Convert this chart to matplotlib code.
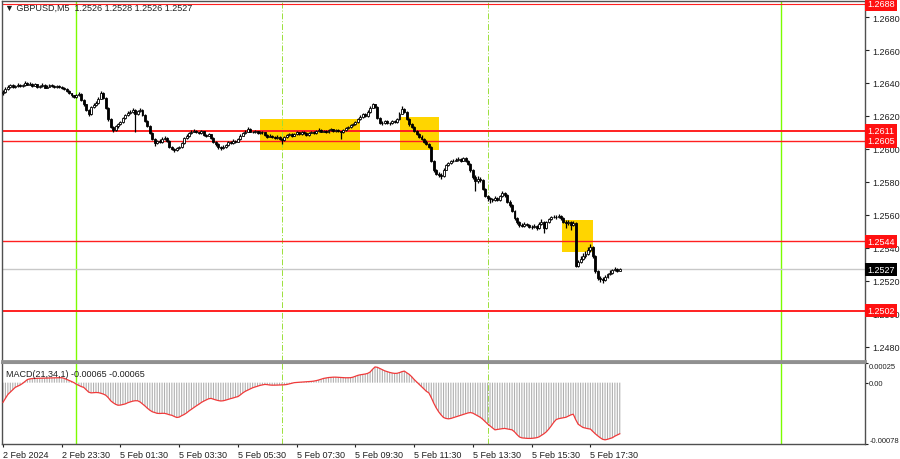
import numpy as np
import matplotlib
matplotlib.use('Agg')
import matplotlib.pyplot as plt
import matplotlib.transforms as mtransforms

plt.rcParams['font.family'] = ['Liberation Sans', 'DejaVu Sans']

# prices are in pips above 1.2500 (1 pip = 0.0001)
base = 1.25
pip = 0.0001

first_open = 134.0
closes = [
    134.5, 136.5, 137.5, 138.5, 137.8, 138.2, 139.0, 138.0, 138.6, 140.2,
    139.0, 139.5, 138.4, 139.2, 137.6, 138.0, 138.8, 137.2, 137.8, 138.5,
    138.0, 137.6, 138.3, 137.4, 136.8, 136.5, 135.2, 133.8, 132.5, 131.6,
    132.5, 133.4, 129.5, 127.0, 123.5, 121.0, 125.5, 126.8, 128.0, 130.5,
    134.2, 131.0, 125.0, 118.0, 113.5, 111.5, 113.8, 115.0, 116.2, 118.5,
    120.5, 121.8, 122.5, 123.8, 121.0, 122.8, 123.5, 120.5, 117.0, 114.0,
    109.5, 106.0, 103.5, 104.8, 104.2, 106.0, 106.8, 105.0, 101.5, 100.0,
    99.2, 100.5, 101.0, 103.5, 106.5, 107.8, 109.8, 110.5, 111.2, 110.0,
    109.5, 110.8, 108.5, 108.0, 108.8, 106.5, 104.0, 102.8, 101.0, 100.5,
    101.5, 102.5, 104.0, 103.5, 105.0, 104.5, 105.8, 108.0, 109.5, 110.5,
    112.0, 110.5, 110.0, 110.8, 109.8, 110.5, 110.0, 108.5, 107.5, 108.0,
    107.0, 106.5, 107.5, 106.0, 105.5, 107.0, 108.5, 109.0, 108.0, 108.8,
    110.0, 109.0, 110.5, 109.5, 108.5, 109.8, 110.2, 109.5, 110.8, 111.5,
    110.5, 111.0, 110.0, 111.5, 112.0, 111.0, 111.5, 110.8, 110.0, 111.5,
    112.8, 113.5, 114.5, 115.0, 116.5, 118.0, 119.5, 121.0, 120.0, 122.5,
    125.0, 127.0, 125.5, 119.0, 116.0, 115.5, 117.0, 116.0, 115.5, 117.0,
    116.5, 118.0, 121.5, 124.0, 122.5, 118.0, 115.0, 113.5, 111.0, 109.0,
    107.5, 106.0, 104.5, 103.0, 101.5, 93.0, 87.0, 85.0, 84.5, 83.5,
    87.5, 90.0, 91.5, 92.5, 93.0, 93.5, 94.0, 93.0, 94.5, 93.0,
    91.0, 87.0, 83.0, 80.5, 82.0, 81.0, 76.0, 71.5, 70.0, 69.5,
    69.0, 70.5, 69.0, 71.5, 73.5, 72.0, 68.0, 66.0, 62.5, 58.0,
    55.5, 54.0, 53.5, 54.5, 54.0, 53.0, 52.5, 53.5, 52.0, 54.5,
    56.0, 52.0, 55.5, 57.5, 58.5, 59.0, 58.5, 59.5, 58.0, 56.0,
    55.0, 56.0, 54.0, 55.0, 29.0, 31.5, 33.5, 35.0, 36.5, 38.5,
    40.5, 35.0, 26.0, 22.0, 21.0, 20.5, 22.5, 24.0, 25.0, 26.5,
    27.5, 26.0, 27.0]
highs = [
    136.0, 137.5, 138.8, 139.5, 139.2, 139.0, 140.2, 139.6, 139.5, 141.4,
    140.8, 140.5, 140.0, 140.0, 139.6, 138.8, 139.8, 139.2, 138.6, 139.4,
    139.2, 138.6, 139.0, 138.7, 137.9, 137.5, 136.8, 135.6, 134.2, 133.0,
    133.4, 134.5, 133.8, 130.2, 127.5, 124.2, 126.0, 127.6, 129.0, 131.5,
    135.0, 134.8, 131.5, 125.5, 118.6, 114.2, 114.5, 115.8, 117.0, 119.4,
    121.4, 122.8, 123.4, 124.7, 124.4, 123.6, 124.6, 124.0, 121.0, 117.6,
    114.5, 110.2, 106.6, 105.6, 105.8, 107.0, 107.6, 107.2, 105.4, 102.0,
    100.8, 101.2, 102.0, 104.2, 107.2, 108.8, 110.6, 111.6, 112.2, 111.8,
    110.6, 111.5, 111.2, 109.2, 109.6, 109.2, 107.0, 104.6, 103.4, 101.6,
    102.2, 103.2, 104.8, 104.6, 105.8, 105.6, 106.6, 108.8, 110.4, 111.4,
    113.3, 112.6, 111.2, 111.6, 111.2, 111.2, 111.0, 110.4, 109.0, 108.8,
    108.4, 107.6, 108.2, 107.8, 106.6, 107.6, 109.2, 109.8, 109.6, 109.6,
    110.8, 110.6, 111.2, 111.0, 110.0, 110.4, 111.0, 110.8, 111.6, 112.6,
    112.0, 111.8, 111.4, 112.2, 112.8, 112.4, 112.2, 112.0, 111.2, 112.0,
    113.5, 114.2, 115.2, 115.8, 117.2, 118.8, 120.4, 122.0, 121.6, 123.4,
    125.8, 127.7, 127.5, 126.0, 119.6, 116.8, 117.8, 117.6, 116.6, 117.8,
    117.6, 118.8, 122.4, 126.0, 124.8, 123.0, 118.6, 115.8, 114.0, 111.6,
    109.8, 108.2, 106.8, 105.2, 103.6, 102.0, 93.6, 87.8, 86.0, 85.4,
    88.2, 90.8, 92.4, 93.4, 94.0, 94.4, 95.0, 94.6, 95.2, 95.0,
    93.6, 91.6, 87.6, 84.0, 83.6, 82.8, 81.6, 76.6, 72.2, 70.8,
    70.4, 71.5, 71.0, 72.4, 74.5, 74.0, 72.6, 68.8, 66.6, 63.0,
    58.8, 56.2, 55.0, 55.6, 55.4, 54.8, 53.8, 54.6, 54.0, 56.0,
    57.6, 56.6, 56.4, 58.4, 59.4, 60.0, 60.2, 60.6, 60.0, 58.6,
    57.0, 57.2, 56.6, 56.4, 55.6, 33.0, 35.0, 37.0, 38.4, 40.6,
    42.4, 41.0, 35.6, 26.6, 23.0, 22.2, 23.4, 25.0, 26.4, 27.4,
    28.6, 28.0, 28.0]
lows = [
    133.0, 134.0, 136.0, 137.0, 137.2, 137.0, 137.8, 137.5, 137.4, 138.2,
    138.5, 138.6, 137.8, 138.0, 137.0, 136.8, 137.6, 136.8, 136.9, 137.5,
    137.4, 137.0, 137.2, 136.9, 136.2, 135.8, 134.6, 133.2, 131.8, 130.8,
    131.0, 132.0, 129.0, 126.2, 122.8, 120.2, 120.5, 124.8, 126.2, 127.5,
    130.0, 130.2, 124.2, 117.2, 112.6, 110.5, 111.0, 113.0, 114.5, 115.8,
    118.0, 120.0, 121.0, 122.0, 110.3, 120.4, 122.2, 119.8, 116.4, 113.2,
    108.8, 105.2, 101.8, 102.8, 103.5, 103.8, 105.4, 104.4, 100.8, 99.2,
    98.4, 98.8, 99.8, 100.6, 103.0, 106.0, 107.2, 109.2, 110.0, 109.4,
    108.8, 109.0, 108.0, 107.4, 107.6, 106.0, 103.4, 102.0, 100.2, 99.6,
    99.8, 100.8, 102.0, 102.8, 103.0, 103.8, 104.0, 105.4, 107.6, 109.0,
    110.0, 110.0, 109.4, 109.6, 109.2, 109.2, 109.2, 108.0, 106.8, 107.0,
    106.4, 105.8, 106.0, 105.4, 103.0, 105.0, 106.6, 108.0, 107.4, 107.6,
    108.4, 108.4, 108.6, 109.0, 108.0, 108.0, 109.4, 109.0, 109.0, 110.4,
    110.0, 110.0, 109.4, 109.6, 111.0, 110.4, 110.6, 110.2, 106.0, 109.6,
    111.0, 112.2, 113.0, 114.0, 114.6, 116.0, 117.6, 119.0, 119.2, 119.6,
    122.0, 124.6, 124.8, 118.4, 115.2, 114.6, 115.0, 115.4, 114.6, 115.0,
    115.8, 116.0, 117.6, 121.0, 121.8, 117.4, 114.2, 112.8, 110.2, 108.2,
    106.8, 105.2, 103.8, 102.2, 100.6, 92.2, 86.0, 84.0, 82.8, 81.8,
    83.0, 87.0, 89.4, 91.0, 92.0, 92.6, 93.0, 92.4, 92.6, 92.4,
    90.4, 86.2, 82.0, 74.5, 79.6, 79.8, 75.2, 70.6, 68.6, 67.0,
    68.0, 68.4, 68.2, 68.6, 71.0, 71.2, 67.2, 65.0, 61.6, 57.2,
    54.6, 53.0, 52.6, 53.0, 53.2, 52.2, 51.6, 52.0, 51.2, 51.6,
    54.0, 49.0, 51.4, 55.0, 57.0, 58.0, 57.8, 58.0, 57.2, 55.0,
    52.0, 54.2, 50.6, 53.2, 28.4, 28.6, 30.8, 32.6, 34.2, 35.8,
    37.6, 34.0, 25.0, 20.6, 19.6, 18.8, 19.8, 21.8, 23.4, 24.4,
    26.0, 25.2, 26.0]

# MACD(21,34,1) main line, in units of 0.00001
macd = [
    -25, -20, -15, -12, -9, -6, -4.5, -3, -1, 1.5,
    4, 4.8, 5.2, 5.4, 5.5, 5.6, 5.6, 5.7, 5.8, 5.9,
    6, 6.1, 6.2, 6.3, 6.3, 5.5, 4.2, 3, 1.5, 0,
    -2, -3.5, -5, -6, -9, -12, -13, -12.8, -12.5, -12.7,
    -13.5, -14.5, -16, -19, -23, -25.5, -27.5, -28.7, -28.5, -27.8,
    -27, -25.5, -24.5, -23.5, -23, -23, -24.5, -27, -29.6, -32.5,
    -35, -37, -38, -39, -39.2, -39, -39, -39.8, -40.8, -41.5,
    -43, -44.3, -43.8, -42, -40.5, -38.5, -36, -33.8, -31.5, -29.5,
    -27.5, -25.3, -23.5, -22, -20.5, -20, -21, -22, -22.8, -23.3,
    -23, -22.2, -21.2, -20.3, -19.5, -18.5, -17.7, -15.5, -13, -11,
    -9.5, -8, -6.5, -5.5, -4.5, -3.5, -2.8, -2.2, -2.5, -3,
    -3.2, -3.2, -3.1, -3, -2.9, -2.7, -2.3, -1.5, -0.8, 0,
    0.3, 0.5, 0.7, 0.8, 1, 1.3, 1.6, 2, 2.6, 3.4,
    4.4, 5.4, 6, 6.5, 6.8, 7, 7, 6.8, 6.5, 6.3,
    6.2, 6.3, 6.3, 7, 8.2, 9.3, 10, 10.5, 11, 11.8,
    13.5, 17, 20, 19.5, 18, 16.5, 15, 14, 13, 12.3,
    11.8, 11.9, 12.8, 14, 14.7, 12.5, 10.5, 7.5, 4, 1,
    -2, -5, -8, -11, -13, -19, -26, -32, -37, -41,
    -44.3, -45.5, -46, -45.5, -44.5, -43.5, -42.5, -41.4, -40.5, -39.5,
    -38.5, -38, -38.8, -40.5, -42.3, -44, -46.5, -49.5, -52.5, -55,
    -57.5, -60, -59.5, -59, -58.5, -58.2, -58.8, -59.4, -60, -62.5,
    -66, -69, -70.2, -70.5, -70.8, -70.9, -70.8, -70.5, -70, -69,
    -67, -65, -62.5, -59, -55, -50.5, -47, -45.8, -45.2, -44.6,
    -44, -42.5, -41, -40.1, -47, -52.8, -55, -57, -57.8, -58.5,
    -59, -62, -65, -67.6, -70, -72, -72.7, -72, -71, -70,
    -68, -66.5, -65]

time_labels = ["2 Feb 2024", "2 Feb 23:30", "5 Feb 01:30", "5 Feb 03:30",
               "5 Feb 05:30", "5 Feb 07:30", "5 Feb 09:30", "5 Feb 11:30",
               "5 Feb 13:30", "5 Feb 15:30", "5 Feb 17:30"]
bars_per_label = 24

levels = [1.2688, 1.2611, 1.2605, 1.2544, 1.2502]
level_lw = [0.8, 1.4, 1.0, 1.0, 1.4]
last_price = 1.2527
day_bars = [30, 318]
hour_bars = [114, 198]
# yellow zones: (first bar, last bar, low price, high price)
zones = [(105.2, 146.0, 1.25994, 1.26182),
         (162.1, 178.2, 1.25994, 1.26192),
         (228.2, 241.1, 1.25374, 1.25572)]

title = "\u25bc GBPUSD,M5  1.2526 1.2528 1.2526 1.2527"
macd_title = "MACD(21,34,1) -0.00065 -0.00065"

fs = 6.5
txt_col = '#202020'
frame_col = '#505050'
green = '#7CFC00'

c = base + np.array(closes) * pip
h = base + np.array(highs) * pip
l = base + np.array(lows) * pip
o = np.concatenate([[base + first_open * pip], c[:-1]])
m = np.array(macd) * 1e-5
x = np.arange(len(c))

fig = plt.figure(figsize=(9, 4.6), dpi=100)
ax = fig.add_axes([2/900, 98/460, 863/900, 360/460])
ax2 = fig.add_axes([2/900, 15/460, 863/900, 81/460])

for a in (ax, ax2):
    a.set_xlim(-0.4, 352.2)
    for s in a.spines.values():
        s.set_color(frame_col)
        s.set_linewidth(1.0)
    for b in day_bars:
        a.axvline(b, color=green, lw=1.0, zorder=1)
    for b in hour_bars:
        a.axvline(b, color='#9BE03A', lw=0.7, ls=(0, (6, 2, 1, 2)), zorder=1)
ax.spines['bottom'].set_linewidth(2.0)
ax.spines['bottom'].set_color('#909090')
ax2.spines['top'].set_linewidth(1.5)
ax2.spines['top'].set_color('#909090')

# ---- price panel
ax.set_ylim(1.24715, 1.26897)
for x0, x1, y0, y1 in zones:
    ax.add_patch(plt.Rectangle((x0, y0), x1 - x0, y1 - y0, color='#FFD500',
                               lw=0, zorder=0.5))

ax.axhline(last_price, color='#C8C8C8', lw=1.0, zorder=1)
for lv, lw in zip(levels, level_lw):
    ax.axhline(lv, color='#FF2020', lw=lw, zorder=1.5)

ax.vlines(x, l, h, color='black', lw=0.9, zorder=3)
up = c >= o
body = np.maximum(np.abs(c - o), 0.000015)
ax.bar(x[up], body[up], bottom=o[up], width=0.8, color='white',
       edgecolor='black', lw=0.6, zorder=4)
ax.bar(x[~up], body[~up], bottom=c[~up], width=0.8, color='black',
       edgecolor='black', lw=0.6, zorder=4)

ax.set_xticks([])
ax.yaxis.tick_right()
ax.set_yticks(np.arange(1.2480, 1.26801, 0.0020))
ax.set_yticklabels(['%.4f' % v for v in np.arange(1.2480, 1.26801, 0.0020)])
ax.tick_params(axis='y', direction='out', length=3, width=0.8, pad=2,
               labelsize=fs, colors=txt_col)

tr = mtransforms.blended_transform_factory(ax.transAxes, ax.transData)
for lv in levels:
    ax.text(1.003, lv, '%.4f' % lv, transform=tr, color='white', fontsize=fs,
            ha='left', va='center', clip_on=False, zorder=10,
            bbox=dict(boxstyle='square,pad=0.25', fc='#FF1010', ec='none'))
ax.text(1.003, last_price, '%.4f' % last_price, transform=tr, color='white',
        fontsize=fs, ha='left', va='center', clip_on=False, zorder=10,
        bbox=dict(boxstyle='square,pad=0.25', fc='black', ec='none'))

fig.text(5/900, 1 - 8/460, title, fontsize=fs, color=txt_col, va='center',
         ha='left')

# ---- MACD panel
ax2.set_ylim(-0.00078, 0.00025)
hist = ax2.vlines(x, 0, m, color='#B0B0B0', lw=0.8, zorder=2)
hist.set_snap(False)
ax2.plot(x, m, color='#F03A3A', lw=0.9, zorder=3)
ax2.yaxis.tick_right()
ax2.set_yticks([0.00025, 0.0, -0.00078])
ax2.set_yticklabels(['0.00025', '0.00', '-0.00078'])
ylabs = ax2.get_yticklabels()
ylabs[0].set_va('top')
ylabs[2].set_va('bottom')
ax2.tick_params(axis='y', direction='out', length=2, width=0.8, pad=1,
                labelsize=5.5, colors=txt_col)
ax2.set_xticks(np.arange(len(time_labels)) * bars_per_label)
ax2.set_xticklabels(time_labels, ha='left')
ax2.tick_params(axis='x', direction='out', length=2, width=0.8, pad=2,
                labelsize=fs, colors=txt_col)
ax2.text(4/863, 0.93, macd_title, transform=ax2.transAxes, fontsize=fs,
         color=txt_col, ha='left', va='top')

fig.savefig('out.png', dpi=100)
